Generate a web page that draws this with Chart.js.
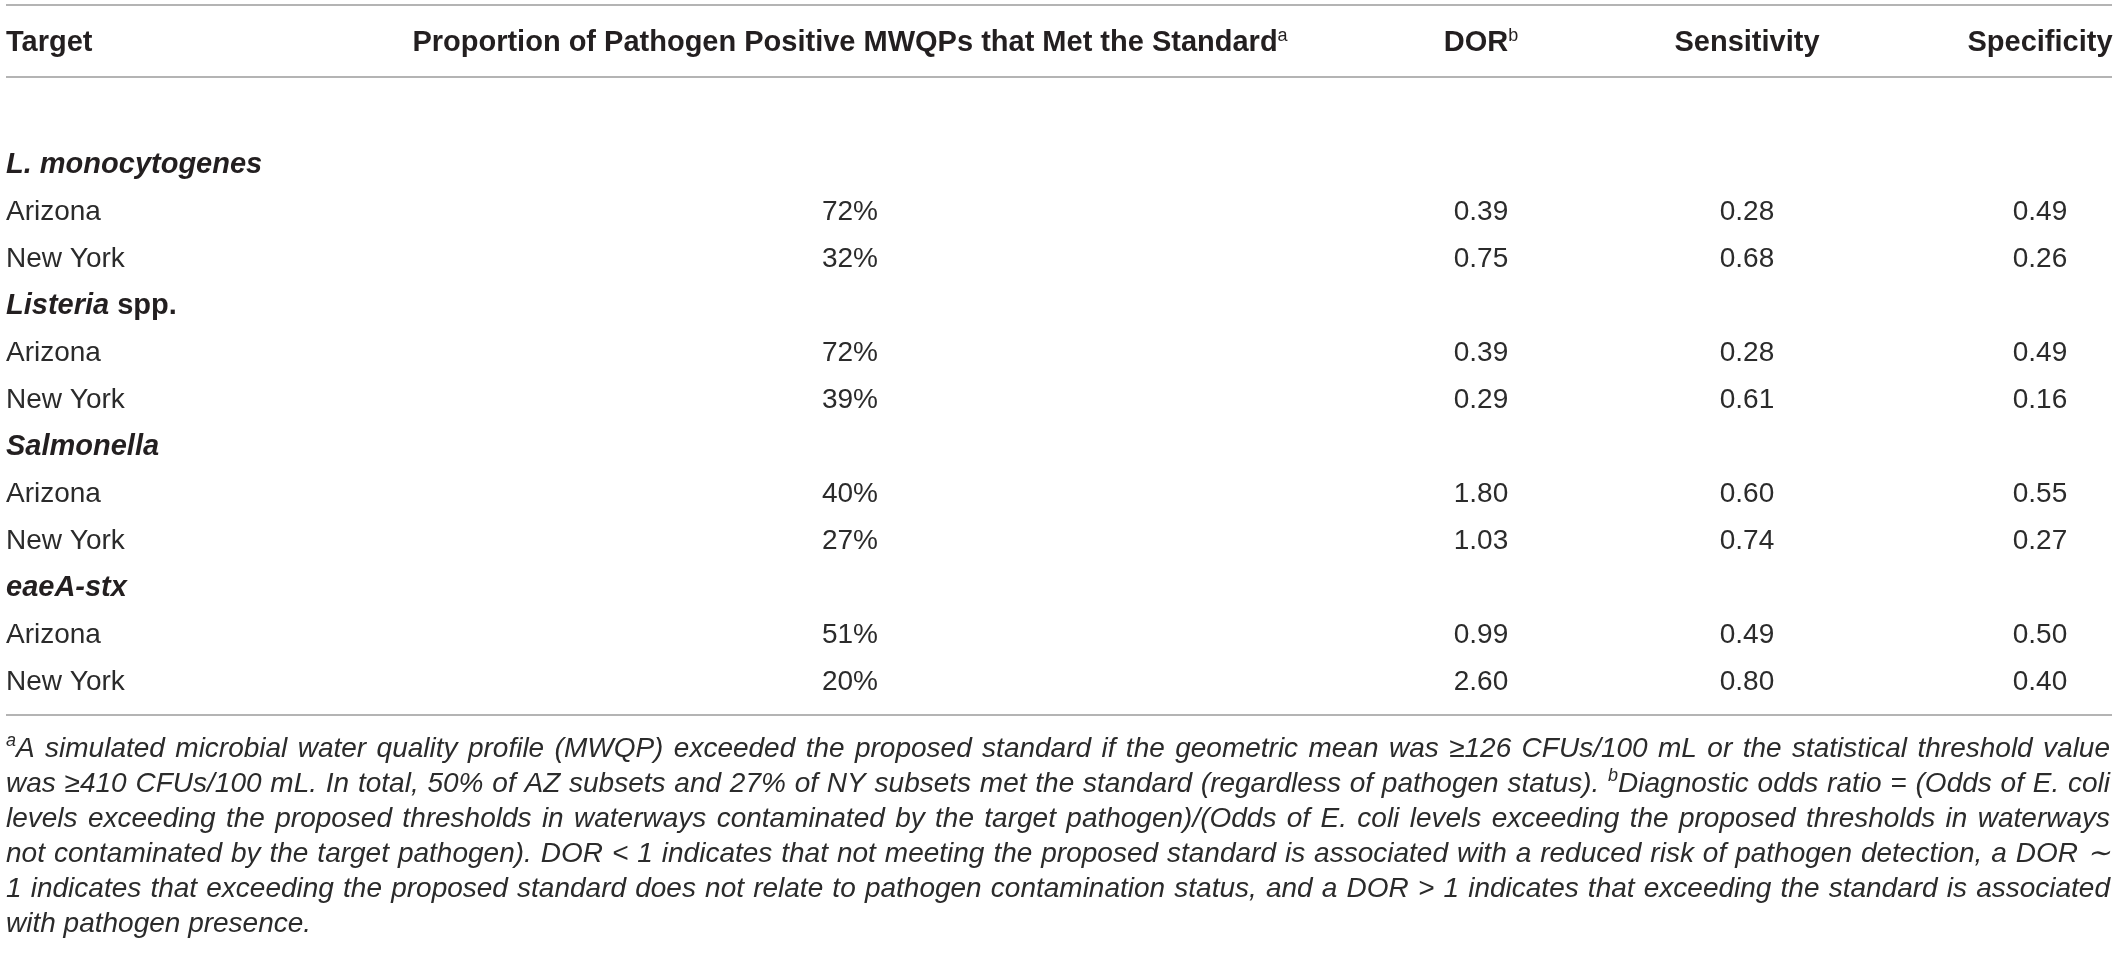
<!DOCTYPE html>
<html>
<head>
<meta charset="utf-8">
<script src="https://cdn.jsdelivr.net/npm/chart.js@4.4.1/dist/chart.umd.min.js"></script>
<style>
  html, body { margin: 0; padding: 0; background: #fff; }
  canvas { display: block; }
</style>
</head>
<body>
<canvas id="tableChart" width="2119" height="953"></canvas>
<script>
// Table data
const targets = ['L. monocytogenes', 'Listeria spp.', 'Salmonella', 'eaeA-stx'];
const sites = ['Arizona', 'New York'];
const proportionMet = [72, 32, 72, 39, 40, 27, 51, 20]; // percent, target x site order
const dorValues = [0.39, 0.75, 0.39, 0.29, 1.80, 1.03, 0.99, 2.60];
const sensitivity = [0.28, 0.68, 0.28, 0.61, 0.60, 0.74, 0.49, 0.80];
const specificity = [0.49, 0.26, 0.49, 0.16, 0.55, 0.27, 0.50, 0.40];
const columnHeaders = ['Target', 'Proportion of Pathogen Positive MWQPs that Met the Standard', 'DOR', 'Sensitivity', 'Specificity'];
const headerNotes = ['', 'a', 'b', '', ''];

const footnoteLines = [
  '^aA simulated microbial water quality profile (MWQP) exceeded the proposed standard if the geometric mean was \u2265126 CFUs/100 mL or the statistical threshold value',
  'was \u2265410 CFUs/100 mL. In total, 50% of AZ subsets and 27% of NY subsets met the standard (regardless of pathogen status). ^bDiagnostic odds ratio = (Odds of E. coli',
  'levels exceeding the proposed thresholds in waterways contaminated by the target pathogen)/(Odds of E. coli levels exceeding the proposed thresholds in waterways',
  'not contaminated by the target pathogen). DOR < 1 indicates that not meeting the proposed standard is associated with a reduced risk of pathogen detection, a DOR \u223C',
  '1 indicates that exceeding the proposed standard does not relate to pathogen contamination status, and a DOR > 1 indicates that exceeding the standard is associated',
  'with pathogen presence.'
];

// layout / style
const FAM = '"Liberation Sans", Arial, Helvetica, sans-serif';
const TEXT = '#231f20';
const BODY = '#2b2b2b';
const RULE = '#b4b4b4';
const colX = [6, 850, 1481, 1747, 2040]; // column anchors on the x scale (0..2119)
const fonts = {
  header: 'bold 29px ' + FAM,
  group: 'italic bold 29px ' + FAM,
  groupPlain: 'bold 29px ' + FAM,
  body: '28px ' + FAM,
  sup: '18px ' + FAM,
  note: 'italic 28px ' + FAM,
  noteSup: 'italic 18px ' + FAM
};

// rows: group header then one row per site
const rowKeys = [];
const rowLabels = [];
const valueRows = [];
targets.forEach(function(t) {
  rowKeys.push(t);
  rowLabels.push({ text: t, group: true });
  sites.forEach(function(s) {
    const key = t + ' | ' + s;
    rowKeys.push(key);
    rowLabels.push({ text: s, group: false });
    valueRows.push(key);
  });
});

function column(i, values, fmt) {
  return {
    label: columnHeaders[i],
    data: values.map(function(v, j) { return { x: colX[i], y: valueRows[j] }; }),
    cellText: values.map(fmt),
    align: 'center',
    pointRadius: 0
  };
}

const datasets = [
  {
    label: columnHeaders[0],
    data: rowKeys.map(function(k) { return { x: colX[0], y: k }; }),
    cellText: rowLabels,
    align: 'left',
    pointRadius: 0
  },
  column(1, proportionMet, function(v) { return v + '%'; }),
  column(2, dorValues, function(v) { return v.toFixed(2); }),
  column(3, sensitivity, function(v) { return v.toFixed(2); }),
  column(4, specificity, function(v) { return v.toFixed(2); })
];

function sizeOf(font) { return parseFloat(font.match(/(\d+(\.\d+)?)px/)[1]); }

function drawSegments(ctx, segs, x, baseline) {
  let cx = x;
  segs.forEach(function(s) {
    ctx.font = s.font;
    ctx.fillText(s.text, cx, baseline - (s.raise || 0));
    cx += ctx.measureText(s.text).width;
  });
}
function segWidth(ctx, segs) {
  let w = 0;
  segs.forEach(function(s) { ctx.font = s.font; w += ctx.measureText(s.text).width; });
  return w;
}

function groupSegments(name) {
  if (name.endsWith(' spp.')) {
    return [{ text: name.slice(0, -5), font: fonts.group }, { text: ' spp.', font: fonts.groupPlain }];
  }
  return [{ text: name, font: fonts.group }];
}

const tableText = {
  id: 'tableText',
  afterDatasetsDraw(chart) {
    const ctx = chart.ctx;
    const area = chart.chartArea;
    const xs = chart.scales.x;
    ctx.save();
    ctx.fillStyle = TEXT;
    ctx.textBaseline = 'alphabetic';
    ctx.textAlign = 'left';

    // rules
    const left = 6, right = 2112;
    ctx.strokeStyle = RULE;
    ctx.lineWidth = 2;
    [area.top - 134, area.top - 62, area.bottom + 12].forEach(function(y) {
      ctx.beginPath();
      ctx.moveTo(left, y);
      ctx.lineTo(right, y);
      ctx.stroke();
    });

    // header
    const headBase = area.top - 98 + 0.36 * sizeOf(fonts.header);
    columnHeaders.forEach(function(h, i) {
      const segs = [{ text: h, font: fonts.header }];
      if (headerNotes[i]) segs.push({ text: headerNotes[i], font: fonts.sup, raise: 10 });
      const w = segWidth(ctx, segs);
      const px = xs.getPixelForValue(colX[i]);
      drawSegments(ctx, segs, i === 0 ? px : px - w / 2, headBase);
    });

    // cells
    chart.data.datasets.forEach(function(ds, d) {
      const meta = chart.getDatasetMeta(d);
      meta.data.forEach(function(el, j) {
        const cell = ds.cellText[j];
        let segs;
        if (typeof cell === 'object') {
          segs = cell.group ? groupSegments(cell.text) : [{ text: cell.text, font: fonts.body }];
          ctx.fillStyle = cell.group ? TEXT : BODY;
        } else {
          segs = [{ text: cell, font: fonts.body }];
          ctx.fillStyle = BODY;
        }
        const w = segWidth(ctx, segs);
        const base = el.y + 0.36 * sizeOf(segs[0].font);
        drawSegments(ctx, segs, ds.align === 'left' ? el.x : el.x - w / 2, base);
      });
    });

    // footnote, justified
    ctx.fillStyle = BODY;
    const noteSize = sizeOf(fonts.note);
    const avail = right - 2 - 6;
    footnoteLines.forEach(function(line, li) {
      const base = area.bottom + 44 + li * 35 + 0.36 * noteSize;
      const words = line.split(' ').map(function(wd) {
        if (wd.charAt(0) === '^') {
          return [{ text: wd.charAt(1), font: fonts.noteSup, raise: 11 }, { text: wd.slice(2), font: fonts.note }];
        }
        return [{ text: wd, font: fonts.note }];
      });
      const widths = words.map(function(s) { return segWidth(ctx, s); });
      ctx.font = fonts.note;
      const spaceW = ctx.measureText(' ').width;
      const total = widths.reduce(function(a, b) { return a + b; }, 0);
      const gaps = words.length - 1;
      const last = li === footnoteLines.length - 1;
      let gap = spaceW, sx = 1;
      if (!last) {
        gap = (avail - total) / gaps;
        if (gap < spaceW * 0.6) {
          sx = avail / (total + gaps * spaceW);
          gap = spaceW;
        }
      }
      ctx.save();
      ctx.translate(6, 0);
      ctx.scale(sx, 1);
      let cx = 0;
      words.forEach(function(segs, k) {
        drawSegments(ctx, segs, cx, base);
        cx += widths[k] + gap;
      });
      ctx.restore();
    });
    ctx.restore();
  }
};

new Chart(document.getElementById('tableChart').getContext('2d'), {
  type: 'scatter',
  data: { labels: rowKeys, datasets: datasets },
  options: {
    responsive: false,
    animation: false,
    events: [],
    layout: { padding: { top: 139, bottom: 250, left: 0, right: 0 } },
    scales: {
      x: { type: 'linear', min: 0, max: 2119, display: false },
      y: { type: 'category', labels: rowKeys, offset: true, display: false }
    },
    plugins: {
      legend: { display: false },
      tooltip: { enabled: false }
    }
  },
  plugins: [tableText]
});
</script>
</body>
</html>
